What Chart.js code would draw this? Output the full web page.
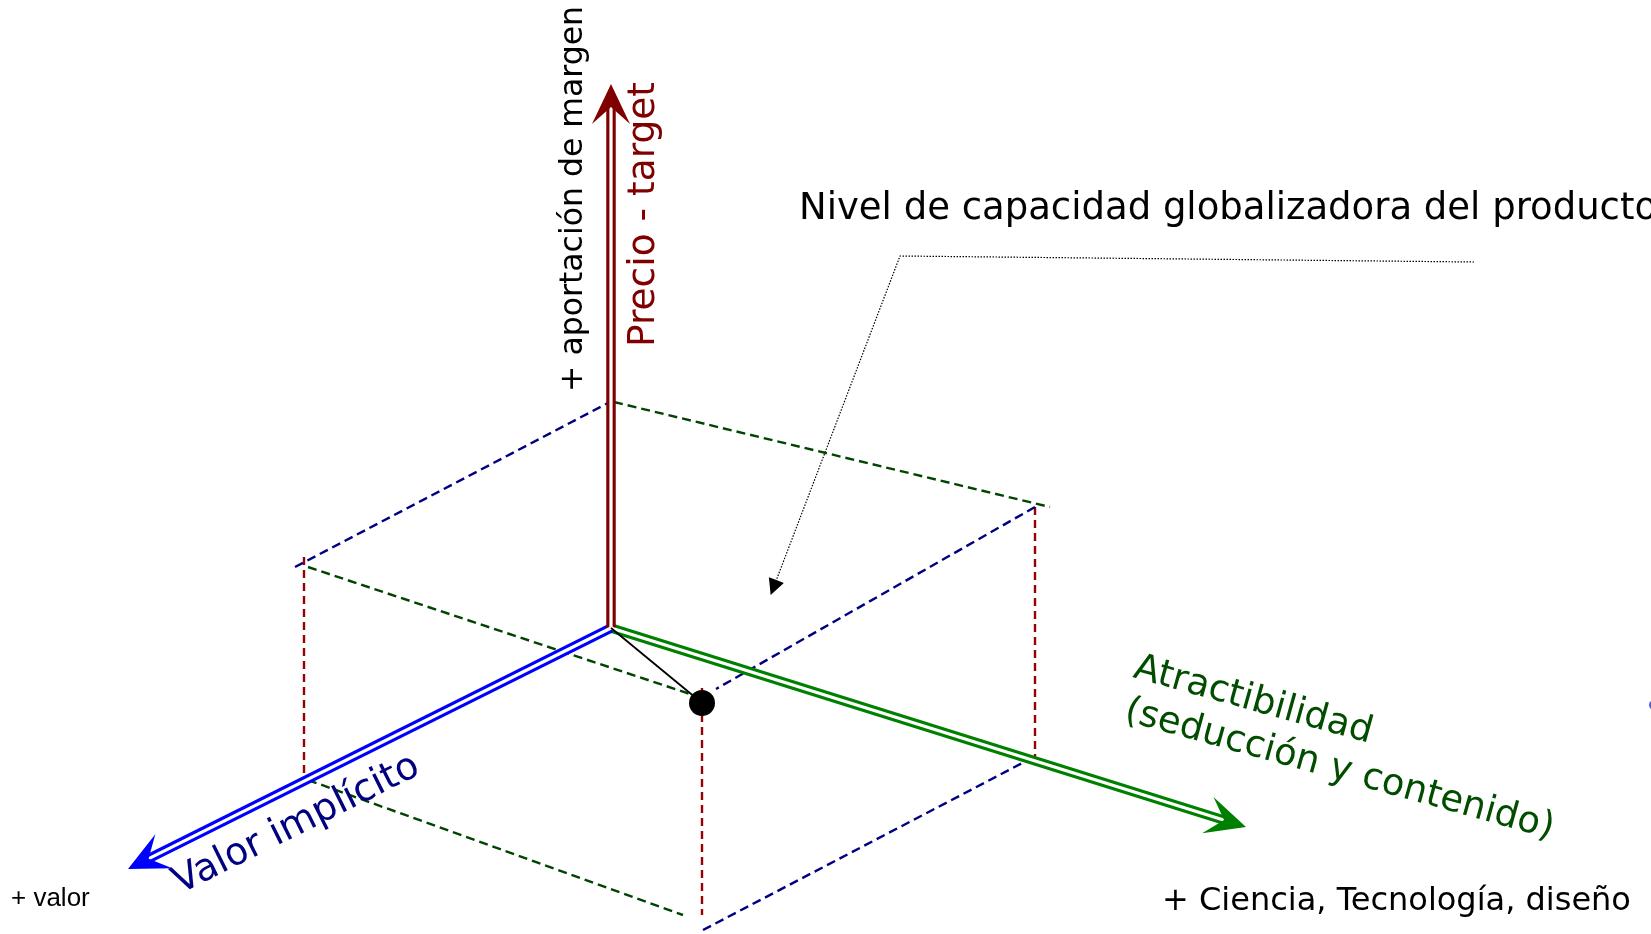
<!DOCTYPE html>
<html>
<head>
<meta charset="utf-8">
<script src="https://cdn.jsdelivr.net/npm/chart.js@4.4.1/dist/chart.umd.min.js"></script>
<style>
  html, body { margin: 0; background: #fff; }
  #wrap { width: 1651px; height: 934px; position: relative; }
</style>
</head>
<body>
<div id="wrap"><canvas id="diagram"></canvas></div>
<script>
// diagram points (plane units = picture units, y grows downward)
const axisOrigin = { x: 611, y: 628 };
const precioTip = { x: 611, y: 84 };
const valorTip = { x: 128, y: 869 };
const atractTip = { x: 1246, y: 827 };

const boxBlueEdges = [
    [{ x: 295, y: 567 }, { x: 608, y: 403 }],
    [{ x: 1035, y: 507 }, { x: 716, y: 689 }],
    [{ x: 703, y: 930 }, { x: 1030, y: 759 }]
];
const boxGreenEdges = [
    [{ x: 614, y: 402 }, { x: 1050, y: 507 }],
    [{ x: 308, y: 567 }, { x: 690, y: 694 }],
    [{ x: 308, y: 780 }, { x: 683, y: 915 }]
];
const boxRedEdges = [
    [{ x: 304, y: 557 }, { x: 304, y: 782 }],
    [{ x: 1035, y: 507 }, { x: 1035, y: 757 }],
    [{ x: 702, y: 688 }, { x: 702, y: 915 }]
];
const productPoint = { x: 702, y: 703 };
const leaderLine = [{ x: 1474, y: 262 }, { x: 900, y: 256 }, { x: 776, y: 581 }];
const edgeMark = { x: 1654, y: 705 };

const titleText = 'Nivel de capacidad globalizadora del producto';
const axisTitles = ['Precio - target', 'Valor implícito', 'Atractibilidad', '(seducción y contenido)'];
const axisNotes = ['+ aportación de margen', '+ valor', '+ Ciencia, Tecnología, diseño'];

const RED = '#800000', BLUE = '#0000ff', GREEN = '#008000';
const HEAD_LEN = 40, HEAD_HALF = 19, HEAD_NOTCH = 23;

function segment(pts, color, width, dash, order) {
    return {
        data: pts, showLine: true, borderColor: color, borderWidth: width,
        borderDash: dash || [], pointRadius: 0, fill: false, order: order,
        clip: false, borderCapStyle: 'butt'
    };
}

// stop the shaft inside the arrow head so it does not poke out at the tip
function shaftEnd(tip) {
    const dx = axisOrigin.x - tip.x, dy = axisOrigin.y - tip.y;
    const d = Math.hypot(dx, dy);
    return { x: tip.x + dx / d * (HEAD_NOTCH - 2), y: tip.y + dy / d * (HEAD_NOTCH - 2) };
}

const datasets = [];
// box (dashed)
boxBlueEdges.forEach(e => datasets.push(segment(e, '#000080', 2.4, [9, 5], 5)));
boxGreenEdges.forEach(e => datasets.push(segment(e, '#004400', 2.4, [9, 5], 5)));
boxRedEdges.forEach(e => datasets.push(segment(e, '#990000', 2.4, [8, 5], 5)));
// leader line to the box
datasets.push(segment(leaderLine, '#000', 1.2, [1.5, 1.5], 5));
// axes drawn as double lines: thick colour, thin white core on top
[[precioTip, RED], [valorTip, BLUE], [atractTip, GREEN]].forEach(([tip, col]) => {
    const end = shaftEnd(tip);
    datasets.push(segment([axisOrigin, end], col, 9.5, [], 3));
    datasets.push(segment([axisOrigin, end], '#fff', 3.2, [], 2));
});
// link from origin to product point, and the point
datasets.push(segment([axisOrigin, productPoint], '#000', 1.8, [], 1));
datasets.push({ data: [productPoint], pointRadius: 13, pointBackgroundColor: '#000', pointBorderWidth: 0, order: 0, clip: false });
datasets.push({ data: [edgeMark], pointRadius: 5, pointBackgroundColor: '#5a5ac8', pointBorderWidth: 0, order: 0, clip: false });

function arrowHead(ctx, from, tip, color, len, half, notch) {
    const ang = Math.atan2(tip.y - from.y, tip.x - from.x);
    ctx.save();
    ctx.translate(tip.x, tip.y);
    ctx.rotate(ang);
    ctx.beginPath();
    ctx.moveTo(0, 0);
    ctx.lineTo(-len, -half);
    ctx.lineTo(-notch, 0);
    ctx.lineTo(-len, half);
    ctx.closePath();
    ctx.fillStyle = color;
    ctx.fill();
    ctx.restore();
}

function label(ctx, text, at, angleDeg, font, color) {
    ctx.save();
    ctx.translate(at.x, at.y);
    ctx.rotate(angleDeg * Math.PI / 180);
    ctx.font = font;
    ctx.fillStyle = color;
    ctx.textBaseline = 'alphabetic';
    ctx.textAlign = 'left';
    ctx.fillText(text, 0, 0);
    ctx.restore();
}

const diagramPlugin = {
    id: 'diagram',
    afterDatasetsDraw(chart) {
        const { ctx } = chart;
        const sx = chart.scales.x, sy = chart.scales.y;
        const px = p => ({ x: sx.getPixelForValue(p.x), y: sy.getPixelForValue(p.y) });
        const o = px(axisOrigin);

        arrowHead(ctx, o, px(precioTip), RED, HEAD_LEN, HEAD_HALF, HEAD_NOTCH);
        arrowHead(ctx, o, px(valorTip), BLUE, HEAD_LEN, HEAD_HALF, HEAD_NOTCH);
        arrowHead(ctx, o, px(atractTip), GREEN, HEAD_LEN, HEAD_HALF, HEAD_NOTCH);

        // leader arrow (small solid triangle)
        const n = leaderLine.length;
        const a = px(leaderLine[n - 2]), b = px(leaderLine[n - 1]);
        const d = Math.hypot(b.x - a.x, b.y - a.y);
        const tip = { x: b.x + (b.x - a.x) / d * 15, y: b.y + (b.y - a.y) / d * 15 };
        arrowHead(ctx, a, tip, '#000', 16, 8, 16);

        const vt = px(valorTip);
        const valorAngle = Math.atan2(o.y - vt.y, o.x - vt.x) * 180 / Math.PI;
        const dv = '"DejaVu Sans", Verdana, sans-serif';

        label(ctx, titleText, px({ x: 799, y: 219 }), 0, '37px ' + dv, '#000');
        label(ctx, axisNotes[0], px({ x: 582, y: 392 }), -90, '31.5px ' + dv, '#000');
        label(ctx, axisTitles[0], px({ x: 654, y: 347 }), -90, '37.5px ' + dv, RED);
        label(ctx, axisTitles[1], px({ x: 180, y: 894 }), valorAngle, '38px ' + dv, '#000080');
        label(ctx, axisTitles[2], px({ x: 1132, y: 677 }), 15.5, '37px ' + dv, '#004d00');
        label(ctx, axisTitles[3], px({ x: 1123, y: 720 }), 15.5, '37px ' + dv, '#004d00');
        label(ctx, axisNotes[1], px({ x: 11, y: 906 }), 0, '26px "Liberation Sans", Arial, sans-serif', '#000');
        label(ctx, axisNotes[2], px({ x: 1162, y: 910 }), 0, '32px ' + dv, '#000');
    }
};

new Chart(document.getElementById('diagram').getContext('2d'), {
    type: 'scatter',
    data: { datasets: datasets },
    options: {
        responsive: true,
        maintainAspectRatio: false,
        animation: false,
        events: [],
        layout: { padding: 0, autoPadding: false },
        elements: { line: { tension: 0 } },
        scales: {
            x: { type: 'linear', min: 0, max: 1651, display: false },
            y: { type: 'linear', min: 0, max: 934, reverse: true, display: false }
        },
        plugins: { legend: { display: false }, tooltip: { enabled: false } }
    },
    plugins: [diagramPlugin]
});
</script>
</body>
</html>
